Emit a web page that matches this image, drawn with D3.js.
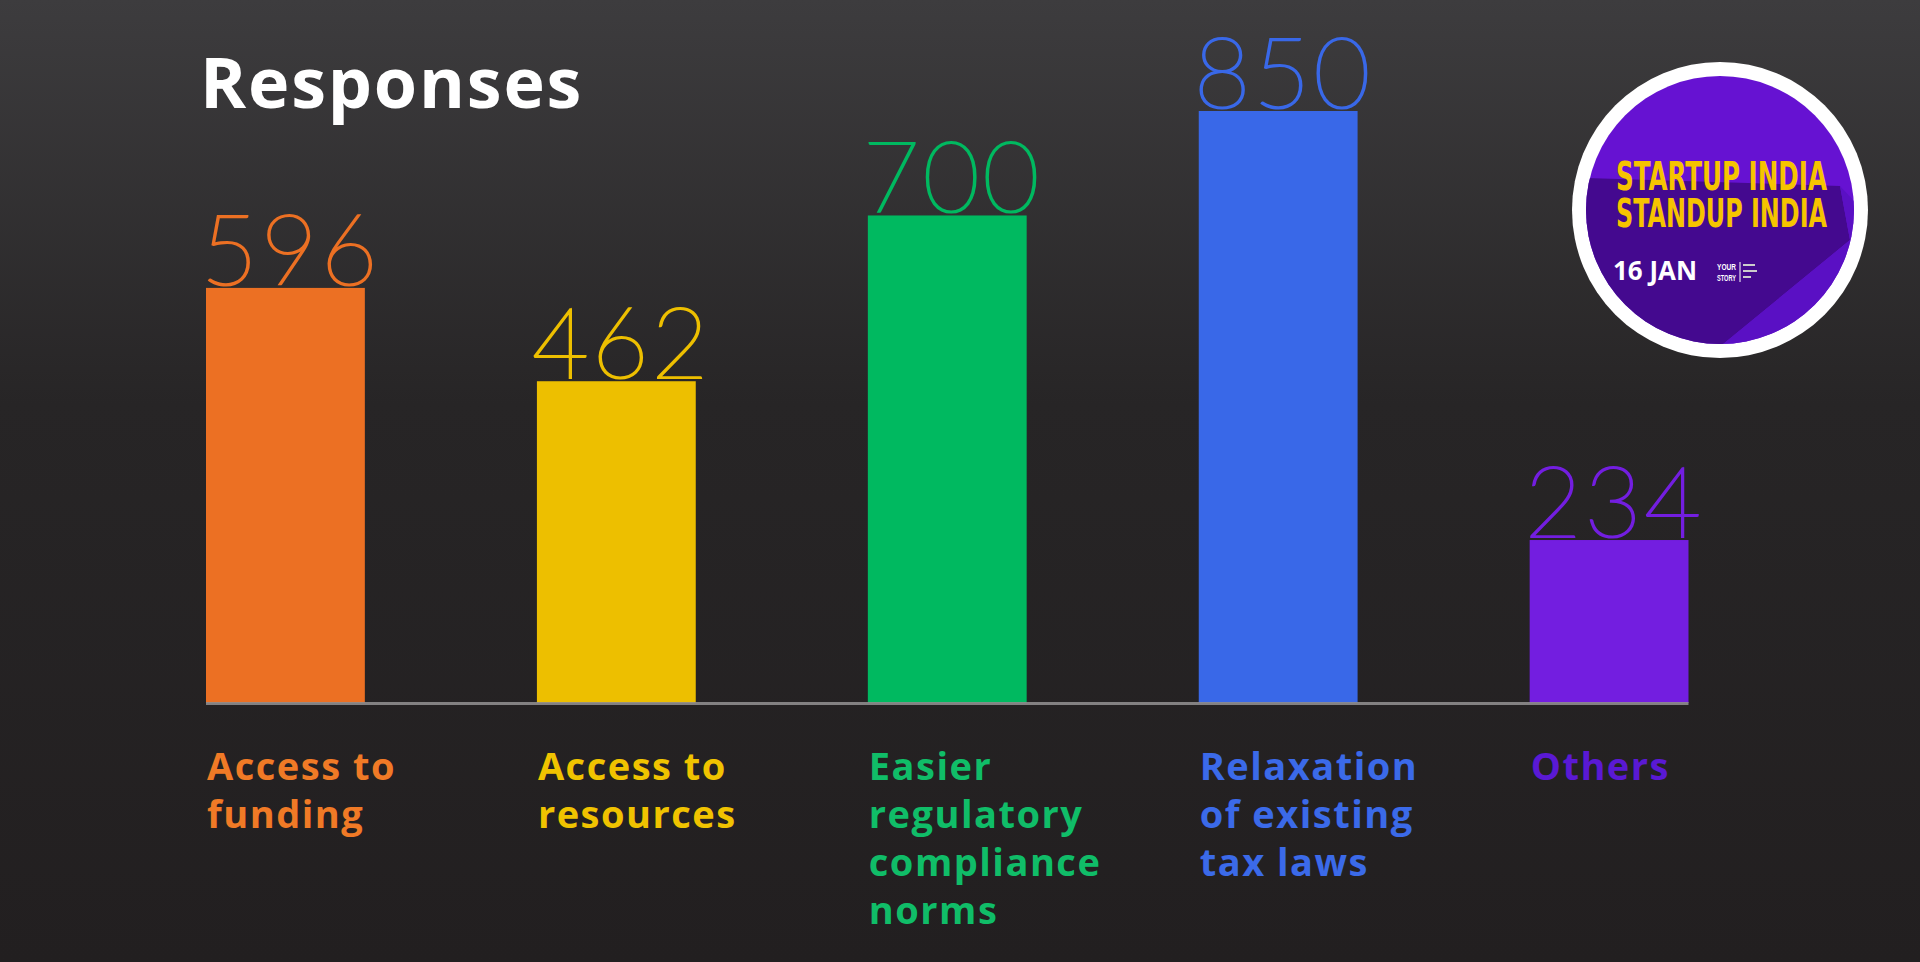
<!DOCTYPE html>
<html><head><meta charset="utf-8">
<script src="https://cdn.jsdelivr.net/npm/d3@7"></script>
<style>html,body{margin:0;padding:0;background:#222;overflow:hidden}</style>
</head><body>
<svg id="chart" width="1920" height="962"></svg>
<script>
const categories = ["Access to funding","Access to resources","Easier regulatory compliance norms","Relaxation of existing tax laws","Others"];
const labelLines = [["Access to","funding"],["Access to","resources"],["Easier","regulatory","compliance","norms"],["Relaxation","of existing","tax laws"],["Others"]];
const values = [596,462,700,850,234];
const barColors = ["#ec7023","#edbf00","#00b960","#3968e8","#731ee0"];
const labelColors = ["#f07a26","#f0c300","#10bd68","#3b6ae9","#5a19d4"];
const titleText = "Responses";
const logoLines = ["STARTUP INDIA","STANDUP INDIA"];
const logoDate = "16 JAN";

const svg = d3.select("#chart");
const defs = svg.append("defs");
const bg = defs.append("linearGradient").attr("id","bg").attr("x1",0).attr("y1",0).attr("x2",0).attr("y2",1);
bg.append("stop").attr("offset","0%").attr("stop-color","#3d3c3e");
bg.append("stop").attr("offset","42%").attr("stop-color","#272526");
bg.append("stop").attr("offset","100%").attr("stop-color","#221f20");
svg.append("rect").attr("width",1920).attr("height",962).attr("fill","url(#bg)");

const x = d3.scaleBand().domain(categories).range([206, 1688.5]).paddingInner(0.52).paddingOuter(0);
const y = d3.scaleLinear().domain([0, 850]).range([703, 111]);

// title
svg.append("text").attr("x",200).attr("y",108).text(titleText)
  .attr("fill","#ffffff").attr("font-family","'Open Sans',sans-serif").attr("font-weight",700)
  .attr("font-size",70).attr("letter-spacing",1.8);

// bars
svg.selectAll("rect.bar").data(categories).join("rect").attr("class","bar")
  .attr("x",d=>x(d)).attr("width",x.bandwidth())
  .attr("y",(d,i)=>y(values[i])).attr("height",(d,i)=>y(0)-y(values[i]))
  .attr("fill",(d,i)=>barColors[i]);

// baseline
svg.append("line").attr("x1",x.range()[0]).attr("x2",x.range()[1]).attr("y1",y(0)+0.5).attr("y2",y(0)+0.5)
  .attr("stroke","#8e8c8d").attr("stroke-width",3).attr("stroke-opacity",0.9);

// value labels
svg.selectAll("text.val").data(categories).join("text").attr("class","val")
  .attr("x",d=>x(d)-5).attr("y",(d,i)=>y(values[i])-3)
  .attr("fill",(d,i)=>barColors[i]).attr("stroke",(d,i)=>barColors[i]).attr("stroke-width",2.2)
  .attr("font-family","Lato, 'Open Sans', sans-serif").attr("font-weight",200)
  .attr("font-size",98).attr("letter-spacing",3)
  .text((d,i)=>values[i]);

// category labels
const lab = svg.selectAll("text.cat").data(categories).join("text").attr("class","cat")
  .attr("x",d=>x(d)+1).attr("y",780)
  .attr("fill",(d,i)=>labelColors[i])
  .attr("font-family","'Open Sans',sans-serif").attr("font-weight",700)
  .attr("font-size",38).attr("letter-spacing",1.5);
lab.each(function(d,i){
  d3.select(this).selectAll("tspan").data(labelLines[i]).join("tspan")
    .attr("x",x(d)+1).attr("dy",(t,j)=>j===0?0:48).text(t=>t);
});

// logo
const cx=1720, cy=210;
const logo = svg.append("g");
logo.append("circle").attr("cx",cx).attr("cy",cy).attr("r",148).attr("fill","#ffffff");
defs.append("clipPath").attr("id","lc").append("circle").attr("cx",cx).attr("cy",cy).attr("r",134);
logo.append("circle").attr("cx",cx).attr("cy",cy).attr("r",134).attr("fill","#6612d2");
const g2 = logo.append("g").attr("clip-path","url(#lc)");
g2.append("path").attr("d",`M1585,178 L1840,186 L1850,240 L1722,345 L1560,345 Z`).attr("fill","#44098f");
g2.append("path").attr("d",`M1840,186 L1900,250 L1900,400 L1722,345 L1850,240 Z`).attr("fill","#5a10c4");
const lt = logo.append("text")
  .attr("fill","#f6c400").attr("font-family","'Liberation Sans Narrow','DejaVu Sans Condensed',sans-serif")
  .attr("font-weight",700).attr("font-size",39);
lt.selectAll("tspan").data(logoLines).join("tspan")
  .attr("x",1616).attr("y",(d,i)=>190+i*37).attr("textLength",211).attr("lengthAdjust","spacingAndGlyphs").text(d=>d);
logo.append("text").attr("x",1613).attr("y",280).text(logoDate)
  .attr("fill","#ffffff").attr("font-family","'Open Sans',sans-serif").attr("font-weight",700)
  .attr("font-size",27).attr("textLength",84).attr("lengthAdjust","spacingAndGlyphs");
const ys = logo.append("text").attr("fill","#fff").attr("font-family","'Liberation Sans Narrow',sans-serif").attr("font-weight",700).attr("font-size",9);
ys.append("tspan").attr("x",1717).attr("y",270).attr("textLength",19).attr("lengthAdjust","spacingAndGlyphs").text("YOUR");
ys.append("tspan").attr("x",1717).attr("y",281).attr("textLength",19).attr("lengthAdjust","spacingAndGlyphs").text("STORY");
logo.append("line").attr("x1",1740).attr("x2",1740).attr("y1",262).attr("y2",282).attr("stroke","#fff").attr("stroke-width",1);
logo.append("rect").attr("x",1743).attr("y",264).attr("width",12).attr("height",2).attr("fill","#ccc");
logo.append("rect").attr("x",1743).attr("y",270).attr("width",14).attr("height",2).attr("fill","#ccc");
logo.append("rect").attr("x",1743).attr("y",276).attr("width",8).attr("height",2).attr("fill","#ccc");
</script>
</body></html>
